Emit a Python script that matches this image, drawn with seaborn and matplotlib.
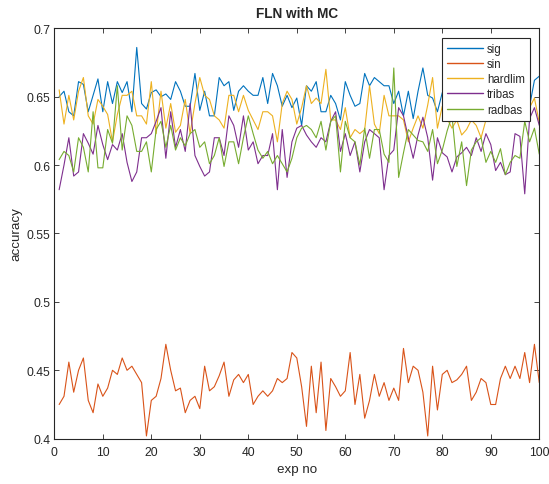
import numpy as np
import pandas as pd
import matplotlib
matplotlib.use("Agg")
import matplotlib.pyplot as plt
import seaborn as sns

exp_no = list(range(1, 101))

sig = [0.650, 0.654, 0.639, 0.636, 0.661, 0.659, 0.639, 0.651, 0.663, 0.639,
       0.661, 0.645, 0.661, 0.653, 0.661, 0.639, 0.686, 0.645, 0.641, 0.653,
       0.655, 0.650, 0.652, 0.648, 0.661, 0.654, 0.643, 0.643, 0.667, 0.640,
       0.654, 0.636, 0.636, 0.664, 0.658, 0.661, 0.640, 0.654, 0.658, 0.654,
       0.651, 0.651, 0.664, 0.645, 0.667, 0.658, 0.643, 0.651, 0.642, 0.649,
       0.629, 0.658, 0.654, 0.661, 0.639, 0.639, 0.651, 0.645, 0.633, 0.661,
       0.651, 0.643, 0.645, 0.667, 0.658, 0.664, 0.661, 0.658, 0.658, 0.645,
       0.654, 0.636, 0.654, 0.634, 0.654, 0.671, 0.651, 0.649, 0.639, 0.653,
       0.650, 0.658, 0.645, 0.655, 0.648, 0.640, 0.634, 0.645, 0.652, 0.660,
       0.648, 0.655, 0.645, 0.652, 0.660, 0.650, 0.648, 0.643, 0.662, 0.665]

sin = [0.425, 0.431, 0.456, 0.434, 0.450, 0.459, 0.428, 0.419, 0.440, 0.431,
       0.437, 0.450, 0.447, 0.459, 0.450, 0.453, 0.447, 0.441, 0.402, 0.428,
       0.431, 0.444, 0.469, 0.450, 0.435, 0.437, 0.419, 0.428, 0.431, 0.422,
       0.453, 0.435, 0.438, 0.446, 0.456, 0.431, 0.443, 0.447, 0.441, 0.447,
       0.425, 0.431, 0.435, 0.431, 0.435, 0.444, 0.441, 0.444, 0.463, 0.459,
       0.438, 0.409, 0.453, 0.419, 0.456, 0.406, 0.444, 0.438, 0.431, 0.435,
       0.463, 0.425, 0.447, 0.415, 0.428, 0.447, 0.431, 0.441, 0.428, 0.437,
       0.428, 0.466, 0.441, 0.453, 0.450, 0.434, 0.402, 0.453, 0.421, 0.447,
       0.450, 0.441, 0.443, 0.447, 0.453, 0.428, 0.434, 0.444, 0.441, 0.425,
       0.425, 0.444, 0.453, 0.444, 0.453, 0.444, 0.463, 0.441, 0.469, 0.441]

hardlim = [0.655, 0.630, 0.651, 0.633, 0.654, 0.664, 0.636, 0.630, 0.648, 0.643,
           0.637, 0.617, 0.637, 0.651, 0.651, 0.654, 0.636, 0.636, 0.630, 0.661,
           0.623, 0.654, 0.627, 0.645, 0.624, 0.629, 0.648, 0.623, 0.645, 0.664,
           0.651, 0.648, 0.636, 0.633, 0.627, 0.651, 0.651, 0.639, 0.651, 0.640,
           0.633, 0.626, 0.639, 0.639, 0.636, 0.617, 0.645, 0.654, 0.648, 0.630,
           0.642, 0.658, 0.645, 0.649, 0.645, 0.670, 0.633, 0.633, 0.626, 0.642,
           0.620, 0.626, 0.623, 0.626, 0.658, 0.630, 0.623, 0.651, 0.636, 0.636,
           0.636, 0.633, 0.617, 0.627, 0.636, 0.627, 0.644, 0.664, 0.627, 0.643,
           0.634, 0.627, 0.633, 0.622, 0.626, 0.633, 0.629, 0.620, 0.633, 0.645,
           0.650, 0.640, 0.655, 0.645, 0.650, 0.640, 0.648, 0.642, 0.649, 0.631]

tribas = [0.582, 0.600, 0.620, 0.592, 0.595, 0.623, 0.616, 0.608, 0.629, 0.615,
          0.604, 0.615, 0.611, 0.623, 0.602, 0.588, 0.595, 0.620, 0.620, 0.623,
          0.632, 0.642, 0.605, 0.639, 0.613, 0.626, 0.610, 0.645, 0.607, 0.599,
          0.592, 0.595, 0.620, 0.620, 0.607, 0.636, 0.629, 0.613, 0.636, 0.611,
          0.617, 0.601, 0.607, 0.607, 0.623, 0.582, 0.626, 0.591, 0.617, 0.627,
          0.629, 0.622, 0.617, 0.613, 0.620, 0.617, 0.632, 0.639, 0.610, 0.623,
          0.607, 0.617, 0.595, 0.617, 0.626, 0.623, 0.620, 0.582, 0.607, 0.611,
          0.642, 0.636, 0.620, 0.605, 0.622, 0.635, 0.620, 0.589, 0.620, 0.609,
          0.606, 0.595, 0.606, 0.609, 0.613, 0.607, 0.620, 0.610, 0.623, 0.615,
          0.596, 0.602, 0.593, 0.595, 0.623, 0.621, 0.579, 0.634, 0.642, 0.629]

radbas = [0.604, 0.610, 0.607, 0.595, 0.620, 0.613, 0.595, 0.639, 0.598, 0.598,
          0.626, 0.616, 0.658, 0.611, 0.636, 0.629, 0.610, 0.610, 0.617, 0.595,
          0.626, 0.632, 0.613, 0.629, 0.611, 0.620, 0.614, 0.623, 0.626, 0.613,
          0.617, 0.601, 0.607, 0.620, 0.599, 0.617, 0.617, 0.601, 0.620, 0.636,
          0.623, 0.611, 0.605, 0.610, 0.601, 0.607, 0.601, 0.595, 0.605, 0.620,
          0.627, 0.629, 0.626, 0.620, 0.632, 0.611, 0.632, 0.636, 0.595, 0.632,
          0.620, 0.617, 0.600, 0.627, 0.605, 0.626, 0.626, 0.608, 0.602, 0.671,
          0.591, 0.609, 0.626, 0.622, 0.618, 0.617, 0.610, 0.626, 0.601, 0.611,
          0.625, 0.636, 0.599, 0.617, 0.585, 0.611, 0.617, 0.620, 0.602, 0.610,
          0.602, 0.612, 0.593, 0.602, 0.607, 0.605, 0.632, 0.617, 0.627, 0.608]

series_names = ["sig", "sin", "hardlim", "tribas", "radbas"]
colors = ["#0072BD", "#D95319", "#EDB120", "#7E2F8E", "#77AC30"]
y_ticks = [0.4, 0.45, 0.5, 0.55, 0.6, 0.65, 0.7]
y_tick_labels = ["0.4", "0.45", "0.5", "0.55", "0.6", "0.65", "0.7"]

df = pd.DataFrame({
    "exp": exp_no * 5,
    "acc": sig + sin + hardlim + tribas + radbas,
    "func": np.repeat(series_names, len(exp_no)),
})

sns.set_style("white")
plt.rcParams["font.family"] = ["Liberation Sans", "DejaVu Sans"]

fig = plt.figure(figsize=(5.49, 4.85), dpi=100)
ax = fig.add_axes([0.0989, 0.0934, 0.8834, 0.8462])

sns.lineplot(data=df, x="exp", y="acc", hue="func", hue_order=series_names,
             palette=colors, linewidth=0.8, ax=ax, legend=True)

ax.set_xlim(0, 100)
ax.set_ylim(0.4, 0.7)
ax.set_xticks(range(0, 101, 10))
ax.set_yticks(y_ticks)
ax.set_yticklabels(y_tick_labels)
ax.tick_params(direction="in", length=3.5, width=0.6, colors="#262626",
               labelsize=8.7, top=True, right=True, bottom=True, left=True)
ax.tick_params(axis="x", pad=5)
ax.tick_params(axis="y", pad=3)
for s in ax.spines.values():
    s.set_visible(True)
    s.set_color("#262626")
    s.set_linewidth(0.8)

ax.set_title("FLN with MC", fontsize=9.8, fontweight="bold", pad=8)
ax.set_xlabel("exp no", fontsize=9.6, color="#262626", labelpad=4)
ax.set_ylabel("accuracy", fontsize=9.6, color="#262626", labelpad=3)

leg = ax.legend(loc="upper right", frameon=True, fancybox=False, fontsize=8.3,
                handlelength=3.1, labelspacing=0.28, borderpad=0.45,
                borderaxespad=0.8, handletextpad=0.35, framealpha=1)
leg.get_frame().set_edgecolor("#262626")
leg.get_frame().set_linewidth(0.8)
for line in leg.get_lines():
    line.set_linewidth(1.0)

fig.savefig("out.png", dpi=100)
